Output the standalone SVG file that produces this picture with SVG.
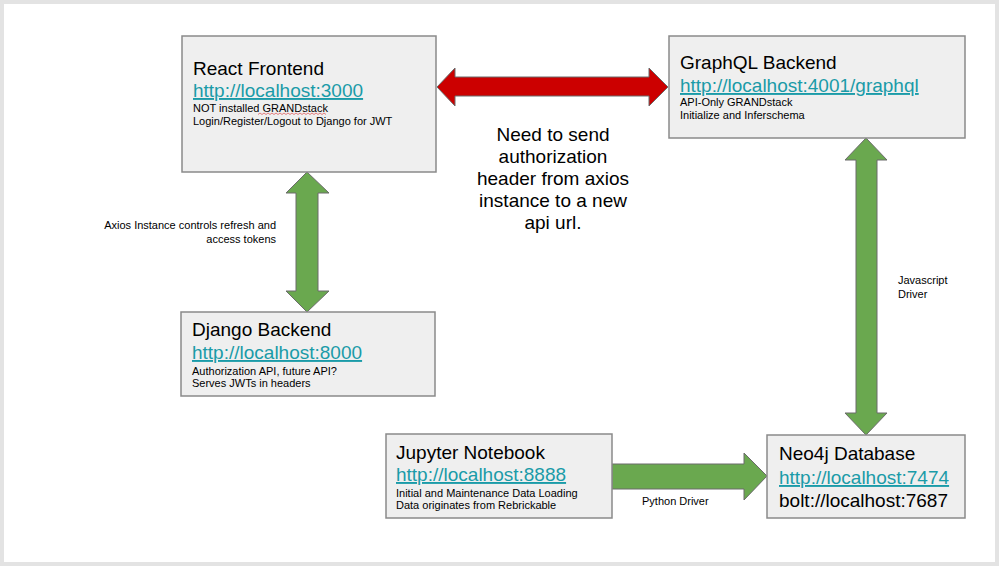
<svg xmlns="http://www.w3.org/2000/svg" width="999" height="566" viewBox="0 0 999 566">
<style>
.box{fill:#efefef;stroke:#8a8a8a;stroke-width:1.5}
.t{font-family:"Liberation Sans",Arial,sans-serif;fill:#000}
.title{font-size:19px}
.url{font-size:19px;fill:#1a9ba8;text-decoration:underline}
.small{font-size:11px}
.green{fill:#6aa84f;stroke:#6b6b6b;stroke-width:1}
.red{fill:#cc0000;stroke:#6b6b6b;stroke-width:1}
</style>
<rect x="0" y="0" width="999" height="566" fill="#ffffff"/>
<rect x="2" y="2" width="995" height="562" fill="none" stroke="#e3e3e3" stroke-width="4"/>

<g id="connectors">
  <polygon class="red" points="437,87 455,68 455,77 649,77 649,68 668,87 649,106 649,96 455,96 455,106"/>
  <polygon class="green" points="307,172 329,193 318,193 318,291 329,291 307,312 286,291 296,291 296,193 286,193"/>
  <polygon class="green" points="866,138 887,160 877,160 877,413 887,413 866,435 845,413 856,413 856,160 845,160"/>
  <polygon class="green" points="612,464 744,464 744,453 767,476 744,500 744,489 612,489"/>
  <text class="t small" x="276" y="229" text-anchor="end">Axios Instance controls refresh and</text>
  <text class="t small" x="276" y="243" text-anchor="end">access tokens</text>
  <text class="t small" x="898" y="284">Javascript</text>
  <text class="t small" x="898" y="298">Driver</text>
  <text class="t small" x="642" y="505">Python Driver</text>
  <g class="t title" text-anchor="middle">
    <text x="553" y="141">Need to send</text>
    <text x="553" y="163">authorization</text>
    <text x="553" y="185">header from axios</text>
    <text x="553" y="207">instance to a new</text>
    <text x="553" y="229">api url.</text>
  </g>
</g>

<g id="react">
  <rect class="box" x="182" y="36" width="254" height="136"/>
  <text class="t title" x="193" y="75">React Frontend</text>
  <text class="t url" x="193" y="97">http://localhost:3000</text>
  <text class="t small" x="193" y="112">NOT installed GRANDstack</text>
  <text class="t small" x="193" y="125">Login/Register/Logout to Django for JWT</text>
  <path d="M258,114.5 l2,-1.5 l2,1.5 l2,-1.5 l2,1.5 l2,-1.5 l2,1.5 l2,-1.5 l2,1.5 l2,-1.5 l2,1.5 l2,-1.5 l2,1.5 l2,-1.5 l2,1.5 l2,-1.5 l2,1.5 l2,-1.5 l2,1.5 l2,-1.5 l2,1.5 l2,-1.5 l2,1.5 l2,-1.5 l2,1.5 l2,-1.5 l2,1.5 l2,-1.5 l2,1.5 l2,-1.5 l2,1.5 l2,-1.5 l2,1.5 l2,-1.5 l2,1.5" fill="none" stroke="#e06060" stroke-width="0.8"/>
</g>

<g id="graphql">
  <rect class="box" x="669" y="36" width="296" height="102"/>
  <text class="t title" x="680" y="69">GraphQL Backend</text>
  <text class="t url" x="680" y="92">http://localhost:4001/graphql</text>
  <text class="t small" x="680" y="106">API-Only GRANDstack</text>
  <text class="t small" x="680" y="119">Initialize and Inferschema</text>
</g>

<g id="django">
  <rect class="box" x="181" y="312" width="254" height="84"/>
  <text class="t title" x="192" y="336">Django Backend</text>
  <text class="t url" x="192" y="359">http://localhost:8000</text>
  <text class="t small" x="192" y="375">Authorization API, future API?</text>
  <text class="t small" x="192" y="387">Serves JWTs in headers</text>
</g>

<g id="jupyter">
  <rect class="box" x="386" y="434" width="226" height="84"/>
  <text class="t title" x="396" y="459">Jupyter Notebook</text>
  <text class="t url" x="396" y="481">http://localhost:8888</text>
  <text class="t small" x="396" y="497">Initial and Maintenance Data Loading</text>
  <text class="t small" x="396" y="509">Data originates from Rebrickable</text>
</g>

<g id="neo4j">
  <rect class="box" x="767" y="435" width="198" height="83"/>
  <text class="t title" x="779" y="460">Neo4j Database</text>
  <text class="t url" x="779" y="484">http://localhost:7474</text>
  <text class="t title" x="779" y="507">bolt://localhost:7687</text>
</g>
</svg>
